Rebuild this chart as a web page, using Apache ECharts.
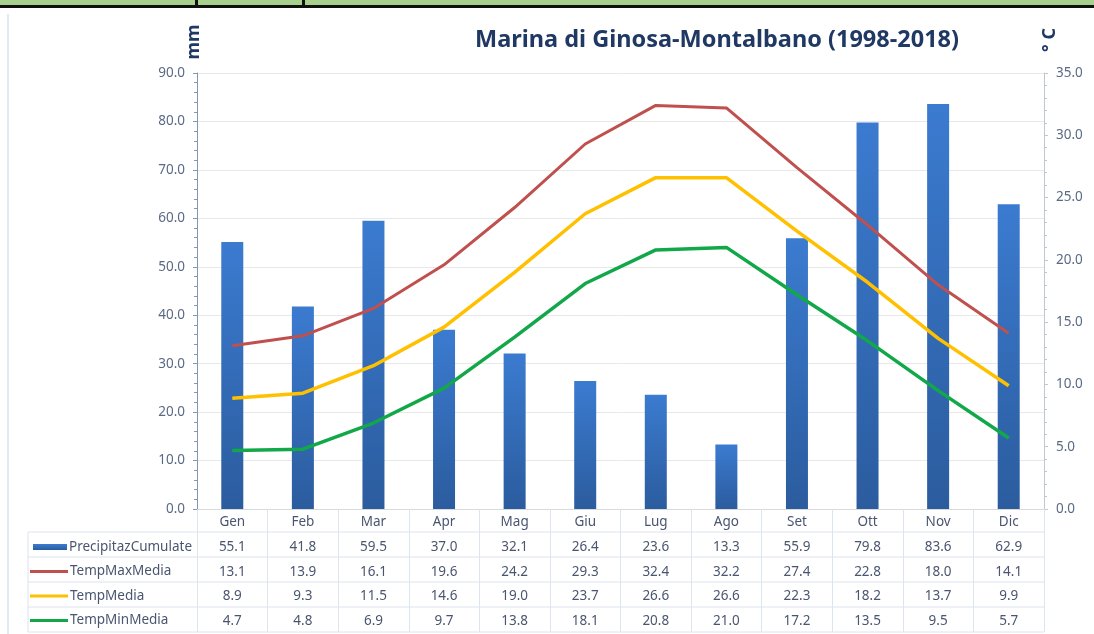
<!DOCTYPE html>
<html>
<head>
<meta charset="utf-8">
<title>Marina di Ginosa-Montalbano</title>
<script src="https://cdn.jsdelivr.net/npm/echarts@6/dist/echarts.min.js"></script>
<style>
  html, body { margin: 0; padding: 0; background: #fff; }
  #chart { width: 1094px; height: 634px; }
</style>
</head>
<body>
<div id="chart"></div>
<script>
// dati climatici 1998-2018
const months = ["Gen", "Feb", "Mar", "Apr", "Mag", "Giu", "Lug", "Ago", "Set", "Ott", "Nov", "Dic"];
const precip = [55.1, 41.8, 59.5, 37.0, 32.1, 26.4, 23.6, 13.3, 55.9, 79.8, 83.6, 62.9];
const tempMax = [13.1, 13.9, 16.1, 19.6, 24.2, 29.3, 32.4, 32.2, 27.4, 22.8, 18.0, 14.1];
const tempMedia = [8.9, 9.3, 11.5, 14.6, 19.0, 23.7, 26.6, 26.6, 22.3, 18.2, 13.7, 9.9];
const tempMin = [4.7, 4.8, 6.9, 9.7, 13.8, 18.1, 20.8, 21.0, 17.2, 13.5, 9.5, 5.7];
const seriesNames = ["PrecipitazCumulate", "TempMaxMedia", "TempMedia", "TempMinMedia"];

// layout
const gridLeft = 197, gridRight = 1044, gridTop = 73, gridBottom = 509;
const headH = 23, rowH = 25, tableLeft = 28;
const labelHead = 26, labelRow = 24.5;
const font = "'Noto Sans', sans-serif";
const textColor = "#4a5670";

const fmt = (v) => v.toFixed(1);

// linee della tabella dati
const tableLines = [];
for (let i = 0; i < 5; i++) {
  const y = gridBottom + headH + rowH * i;
  tableLines.push({
    type: "line",
    shape: { x1: tableLeft, y1: y, x2: gridRight, y2: y },
    style: { stroke: "#dce4ef", lineWidth: 1 },
    silent: true,
  });
}
tableLines.push({
  type: "line",
  shape: { x1: tableLeft, y1: gridBottom + headH, x2: tableLeft, y2: gridBottom + headH + rowH * 4 },
  style: { stroke: "#dce4ef", lineWidth: 1 },
  silent: true,
});

// una legenda per riga della tabella
const legends = seriesNames.map((name, i) => ({
  orient: "vertical",
  left: i === 0 ? 33 : 30,
  top: gridBottom + labelHead + labelRow * i,
  height: 24,
  padding: 0,
  itemWidth: i === 0 ? 34 : 38,
  itemHeight: i === 0 ? 6 : 3,
  selectedMode: false,
  textStyle: { fontFamily: font, fontSize: 13.5, color: textColor, lineHeight: 24, padding: [0, 0, 0, -3] },
  data: [{ name: name, icon: "rect" }],
}));

const myChart = echarts.init(document.getElementById("chart"));
myChart.setOption({
  backgroundColor: "#fff",
  textStyle: { fontFamily: font },
  title: {
    text: "Marina di Ginosa-Montalbano (1998-2018)",
    left: 470,
    top: 23,
    textStyle: { fontFamily: font, fontSize: 23.5, fontWeight: "bold", color: "#1f3864" },
  },
  legend: legends,
  grid: {
    left: gridLeft,
    right: 1094 - gridRight,
    top: gridTop,
    bottom: 634 - gridBottom,
  },
  xAxis: {
    type: "category",
    data: months,
    axisLine: { show: true, lineStyle: { color: "#d9d9d9" } },
    axisTick: { show: true, length: headH + rowH * 4, lineStyle: { color: "#dce4ef" } },
    axisLabel: {
      margin: 0,
      interval: 0,
      formatter: (m, idx) =>
        "{m|" + m + "}\n{v|" + fmt(precip[idx]) + "}\n{v|" + fmt(tempMax[idx]) + "}\n{v|" +
        fmt(tempMedia[idx]) + "}\n{v|" + fmt(tempMin[idx]) + "}",
      rich: {
        m: { fontFamily: font, fontSize: 13.5, color: textColor, lineHeight: labelHead, height: labelHead },
        v: { fontFamily: font, fontSize: 13.5, color: textColor, lineHeight: labelRow, height: labelRow },
      },
    },
  },
  yAxis: [
    {
      type: "value",
      min: 0,
      max: 90,
      interval: 10,
      axisLine: { show: true, lineStyle: { color: "#8497b0" } },
      axisTick: { show: true, length: 4, lineStyle: { color: "#8497b0" } },
      minorTick: { show: true, splitNumber: 5, length: 3, lineStyle: { color: "#8497b0" } },
      axisLabel: { margin: 12, formatter: fmt, fontFamily: font, fontSize: 13.5, color: "#5a6a85" },
      splitLine: { lineStyle: { color: "#e8e8e8" } },
    },
    {
      type: "value",
      min: 0,
      max: 35,
      interval: 5,
      axisLine: { show: true, lineStyle: { color: "#bfc7d2" } },
      axisTick: { show: true, length: 4, lineStyle: { color: "#bfc7d2" } },
      minorTick: { show: true, splitNumber: 5, length: 3, lineStyle: { color: "#bfc7d2" } },
      axisLabel: { margin: 12, formatter: fmt, fontFamily: font, fontSize: 13.5, color: "#5a6a85" },
      splitLine: { show: false },
    },
  ],
  graphic: [
    // striscia verde in alto
    { type: "rect", shape: { x: 0, y: 0, width: 1094, height: 5 }, style: { fill: "#a9d18e" }, silent: true },
    { type: "rect", shape: { x: 0, y: 5, width: 1094, height: 3 }, style: { fill: "#111" }, silent: true },
    { type: "rect", shape: { x: 195, y: 0, width: 3, height: 8 }, style: { fill: "#111" }, silent: true },
    { type: "rect", shape: { x: 302, y: 0, width: 3, height: 8 }, style: { fill: "#111" }, silent: true },
    { type: "line", shape: { x1: 8, y1: 14, x2: 8, y2: 634 }, style: { stroke: "#d6e2f0", lineWidth: 1.5 }, silent: true },
    {
      type: "text",
      x: 194, y: 42, rotation: Math.PI / 2,
      style: { text: "mm", fontFamily: font, fontSize: 18, fontWeight: "bold", fill: "#1f3864", align: "center", verticalAlign: "middle" },
    },
    {
      type: "text",
      x: 1050, y: 40, rotation: Math.PI / 2,
      style: { text: "° C", fontFamily: font, fontSize: 18, fontWeight: "bold", fill: "#1f3864", align: "center", verticalAlign: "middle" },
    },
  ].concat(tableLines),
  series: [
    {
      name: seriesNames[0],
      type: "bar",
      data: precip,
      barWidth: 22,
      yAxisIndex: 0,
      itemStyle: {
        color: new echarts.graphic.LinearGradient(0, 0, 0, 1, [
          { offset: 0, color: "#3b7bd0" },
          { offset: 1, color: "#2b5c9e" },
        ]),
      },
    },
    {
      name: seriesNames[1],
      type: "line",
      data: tempMax,
      yAxisIndex: 1,
      symbol: "none",
      lineStyle: { width: 3, color: "#c0504d" },
      itemStyle: { color: "#c0504d" },
    },
    {
      name: seriesNames[2],
      type: "line",
      data: tempMedia,
      yAxisIndex: 1,
      symbol: "none",
      lineStyle: { width: 3.5, color: "#ffc000" },
      itemStyle: { color: "#ffc000" },
    },
    {
      name: seriesNames[3],
      type: "line",
      data: tempMin,
      yAxisIndex: 1,
      symbol: "none",
      lineStyle: { width: 3.5, color: "#12a84a" },
      itemStyle: { color: "#12a84a" },
    },
  ],
});
</script>
</body>
</html>
